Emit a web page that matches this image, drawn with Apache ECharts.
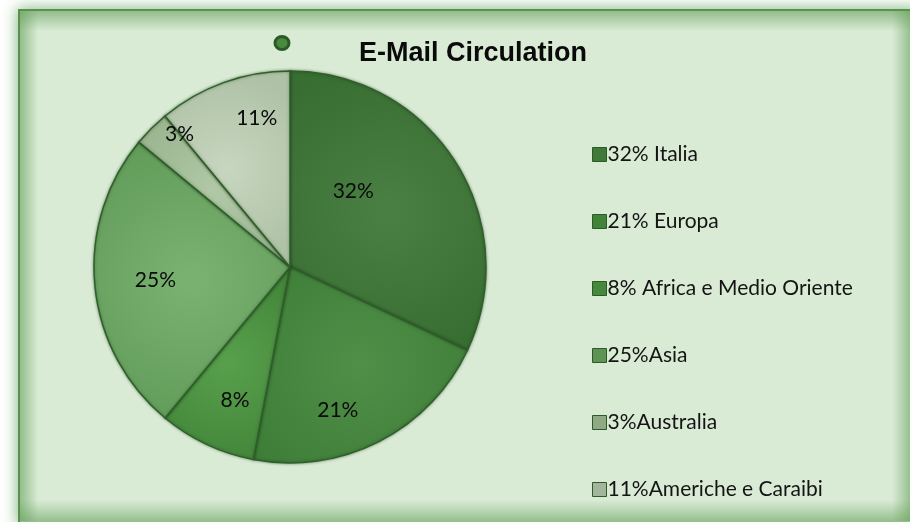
<!DOCTYPE html>
<html>
<head>
<meta charset="utf-8">
<style>
  html, body { margin: 0; padding: 0; background: #ffffff; }
  #chart { width: 910px; height: 522px; }
</style>
<script src="https://cdn.jsdelivr.net/npm/echarts@6/dist/echarts.min.js"></script>
</head>
<body>
<div id="chart"></div>
<script>
// pie data, clockwise from 12 o'clock
var regions = ["32% Italia", "21% Europa", "8% Africa e Medio Oriente", "25%Asia", "3%Australia", "11%Americhe e Caraibi"];
var shares = [32, 21, 8, 25, 3, 11];
var sliceLabels = ["32%", "21%", "8%", "25%", "3%", "11%"];

// styling
var sliceColors = [
    ["#4b8045", "#386e32"],
    ["#4f8f48", "#3d7c36"],
    ["#58a04c", "#44873b"],
    ["#7ab272", "#629c59"],
    ["#b0c8a6", "#94b089"],
    ["#c7d6c0", "#afc2a6"]
];
var iconColors = ["#3f7a39", "#428239", "#46893d", "#5d9455", "#8fa886", "#a3b69b"];
// Excel's best-fit label placement, as nudges from the ECharts default
var labelNudge = [[-22, -22], [2, 53], [-12, 42], [-34, 4], [-39, -61], [1, -54]];

var labelFont = "Lato, 'DejaVu Sans', sans-serif";

var chart = echarts.init(document.getElementById("chart"));

var pieData = regions.map(function (name, i) {
    return {
        name: name,
        value: shares[i],
        label: { formatter: sliceLabels[i] },
        itemStyle: {
            color: {
                type: "radial", x: 0.5, y: 0.5, r: 0.75,
                colorStops: [
                    { offset: 0, color: sliceColors[i][0] },
                    { offset: 1, color: sliceColors[i][1] }
                ]
            }
        }
    };
});

var legendData = regions.map(function (name, i) {
    return { name: name, itemStyle: { color: iconColors[i] } };
});

function edgeStrip(x, y, w, h, gx, gy, gx2, gy2) {
    return {
        type: "rect",
        z: -9,
        shape: { x: x, y: y, width: w, height: h },
        style: {
            fill: {
                type: "linear", x: gx, y: gy, x2: gx2, y2: gy2,
                colorStops: [
                    { offset: 0, color: "rgba(100,160,90,0.55)" },
                    { offset: 1, color: "rgba(100,160,90,0)" }
                ]
            }
        },
        silent: true
    };
}

chart.setOption({
    backgroundColor: "#ffffff",
    animation: false,
    graphic: [
        {
            type: "rect",
            z: -10,
            shape: { x: 19, y: 10, width: 900, height: 514 },
            style: {
                fill: "#d9ead5",
                stroke: "#5a9150",
                lineWidth: 2,
                shadowBlur: 14,
                shadowColor: "rgba(90,160,80,0.75)"
            },
            silent: true
        },
        edgeStrip(20, 11, 898, 20, 0, 0, 0, 1),
        edgeStrip(20, 11, 18, 510, 0, 0, 1, 0),
        edgeStrip(20, 500, 898, 22, 0, 1, 0, 0),
        edgeStrip(892, 11, 18, 510, 1, 0, 0, 0),
        {
            type: "ellipse",
            shape: { cx: 282, cy: 43, rx: 7, ry: 6.5 },
            style: { fill: "#4a8a40", stroke: "#2c5a27", lineWidth: 3 },
            silent: true
        }
    ],
    title: {
        text: "E-Mail Circulation",
        left: 468,
        top: 35,
        textAlign: "center",
        textStyle: {
            fontFamily: "'Liberation Sans Narrow', 'Liberation Sans', sans-serif",
            fontWeight: "bold",
            fontSize: 27,
            color: "#0a0a0a"
        }
    },
    legend: {
        orient: "vertical",
        left: 587,
        top: 139,
        itemWidth: 14,
        itemHeight: 14,
        itemGap: 46,
        icon: "rect",
        data: legendData,
        itemStyle: { borderColor: "#2e5a29", borderWidth: 1 },
        textStyle: {
            fontFamily: labelFont,
            fontSize: 21,
            color: "#141414",
            padding: [0, 0, 0, -4]
        }
    },
    series: [
        {
            type: "pie",
            center: [290, 267],
            radius: 196,
            startAngle: 90,
            clockwise: true,
            data: pieData,
            itemStyle: {
                borderColor: "#2f5f2a",
                borderWidth: 1.5,
                shadowBlur: 3,
                shadowColor: "rgba(30,60,25,0.5)"
            },
            label: {
                position: "inside",
                fontFamily: labelFont,
                fontSize: 21,
                color: "#0a0a0a"
            },
            labelLayout: function (params) {
                var n = labelNudge[params.dataIndex];
                return { dx: n[0], dy: n[1] };
            },
            emphasis: { disabled: true }
        }
    ]
});
</script>
</body>
</html>
